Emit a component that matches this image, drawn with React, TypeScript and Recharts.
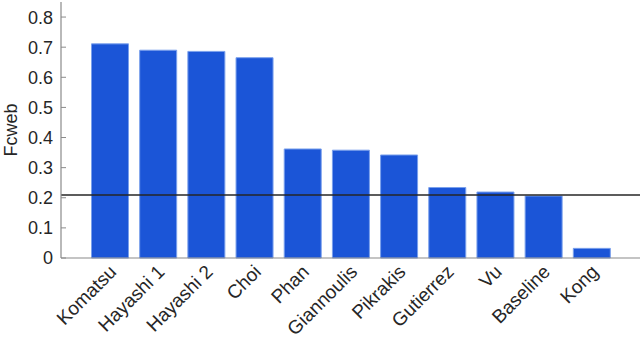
import { BarChart, Bar, XAxis, YAxis, ReferenceLine } from "recharts";

const methods = [
  "Komatsu",
  "Hayashi 1",
  "Hayashi 2",
  "Choi",
  "Phan",
  "Giannoulis",
  "Pikrakis",
  "Gutierrez",
  "Vu",
  "Baseline",
  "Kong",
];
const fcweb = [0.711, 0.69, 0.686, 0.665, 0.362, 0.358, 0.342, 0.234, 0.219, 0.206, 0.032];
const yTicks = [0, 0.1, 0.2, 0.3, 0.4, 0.5, 0.6, 0.7, 0.8];
const baselineLevel = 0.209;

const data = methods.map((name, i) => ({ name, value: fcweb[i] }));

const BLUE = "#1b55d7";
const AXIS = "#8a8a8a";
const TEXT = "#262626";
const FONT = "'Liberation Sans', Arial, sans-serif";

// eslint-disable-next-line @typescript-eslint/no-explicit-any
function YTick({ x, y, payload }: any) {
  return (
    <g>
      <line x1={x + 8} x2={x + 13} y1={y} y2={y} stroke={AXIS} strokeWidth={1} />
      <text x={x} y={y} dy="0.36em" textAnchor="end" fill={TEXT} fontSize={18} fontFamily={FONT}>
        {payload.value}
      </text>
    </g>
  );
}

// eslint-disable-next-line @typescript-eslint/no-explicit-any
function XTick({ x, y, payload }: any) {
  const tx = x + 8;
  const ty = y + 15;
  return (
    <text
      x={tx}
      y={ty}
      textAnchor="end"
      transform={`rotate(-45 ${tx} ${ty})`}
      fill={TEXT}
      fontSize={19}
      fontFamily={FONT}
    >
      {payload.value}
    </text>
  );
}

// eslint-disable-next-line @typescript-eslint/no-explicit-any
function YLabel({ viewBox }: any) {
  const cx = 17;
  const cy = viewBox.y + viewBox.height / 2;
  return (
    <text
      x={cx}
      y={cy}
      textAnchor="middle"
      transform={`rotate(-90 ${cx} ${cy})`}
      fill={TEXT}
      fontSize={18}
      fontFamily={FONT}
    >
      Fcweb
    </text>
  );
}

export default function App() {
  return (
    <div style={{ width: 640, height: 342 }}>
      <style>{"body{margin:0}"}</style>
      <BarChart
        width={640}
        height={342}
        data={data}
        margin={{ top: 2, right: 0, bottom: 0, left: 0 }}
      >
        <XAxis
          dataKey="name"
          interval={0}
          height={84}
          padding={{ left: 24.5, right: 24.5 }}
          tickLine={false}
          tickSize={0}
          tickMargin={0}
          axisLine={{ stroke: AXIS, strokeWidth: 1.2 }}
          tick={<XTick />}
        />
        <YAxis
          width={61}
          domain={[0, 0.85]}
          ticks={yTicks}
          tickLine={false}
          tickSize={0}
          tickMargin={8}
          axisLine={{ stroke: AXIS, strokeWidth: 1.2 }}
          tick={<YTick />}
          label={<YLabel />}
        />
        <Bar
          dataKey="value"
          fill={BLUE}
          stroke="#7aa0ec"
          strokeWidth={1}
          barSize={37}
          isAnimationActive={false}
        />
        <ReferenceLine y={baselineLevel} stroke={TEXT} strokeWidth={1.5} />
      </BarChart>
    </div>
  );
}
